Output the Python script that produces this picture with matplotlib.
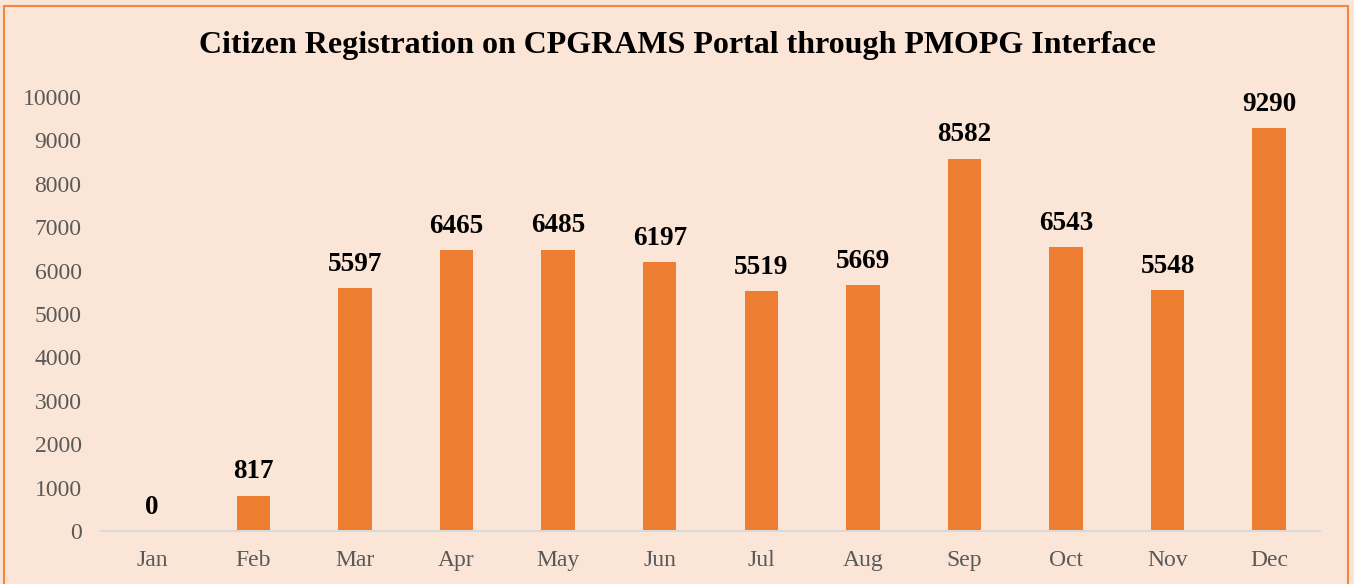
import matplotlib.pyplot as plt
from matplotlib.patches import Rectangle

months = ["Jan", "Feb", "Mar", "Apr", "May", "Jun", "Jul", "Aug", "Sep", "Oct", "Nov", "Dec"]
registrations = [0, 817, 5597, 6465, 6485, 6197, 5519, 5669, 8582, 6543, 5548, 9290]

bg = "#FBE5D6"
orange = "#ED7D31"
grey = "#595959"

plt.rcParams["font.family"] = ["Liberation Serif", "DejaVu Serif"]

fig = plt.figure(figsize=(13.54, 5.84), dpi=100)
fig.patch.set_facecolor(bg)
fig.patches.append(Rectangle((4 / 1354, -0.05), 1344 / 1354, 1.05 - 6 / 584,
                             transform=fig.transFigure, fill=False,
                             edgecolor="#F4873D", linewidth=1.5))

ax = fig.add_axes([101 / 1354, 53 / 584, 1219 / 1354, 434 / 584])
ax.set_facecolor(bg)
x = range(len(months))
bars = ax.bar(x, registrations, width=0.33, color=orange, zorder=2)
for xi, v in zip(x, registrations):
    ax.text(xi, v + 260, str(v), ha="center", va="bottom",
            fontsize=19.5, fontweight="bold", color="black")

ax.set_xlim(-0.5, len(months) - 0.5)
ax.set_ylim(0, 10000)
ax.set_yticks(range(0, 10001, 1000))
ax.set_xticks(list(x))
ax.set_xticklabels(months)
ax.tick_params(axis="both", length=0, labelsize=17, colors=grey)
ax.tick_params(axis="x", pad=14)
ax.tick_params(axis="y", pad=14)
for s in ["top", "right", "left"]:
    ax.spines[s].set_visible(False)
ax.spines["bottom"].set_color("#D9D9D9")
ax.spines["bottom"].set_linewidth(1.5)

fig.text(0.5, 1 - 46 / 584, "Citizen Registration on CPGRAMS Portal through PMOPG Interface",
         ha="center", va="center", fontsize=23, fontweight="bold", color="black")

fig.savefig("out.png", dpi=100, facecolor=bg)
